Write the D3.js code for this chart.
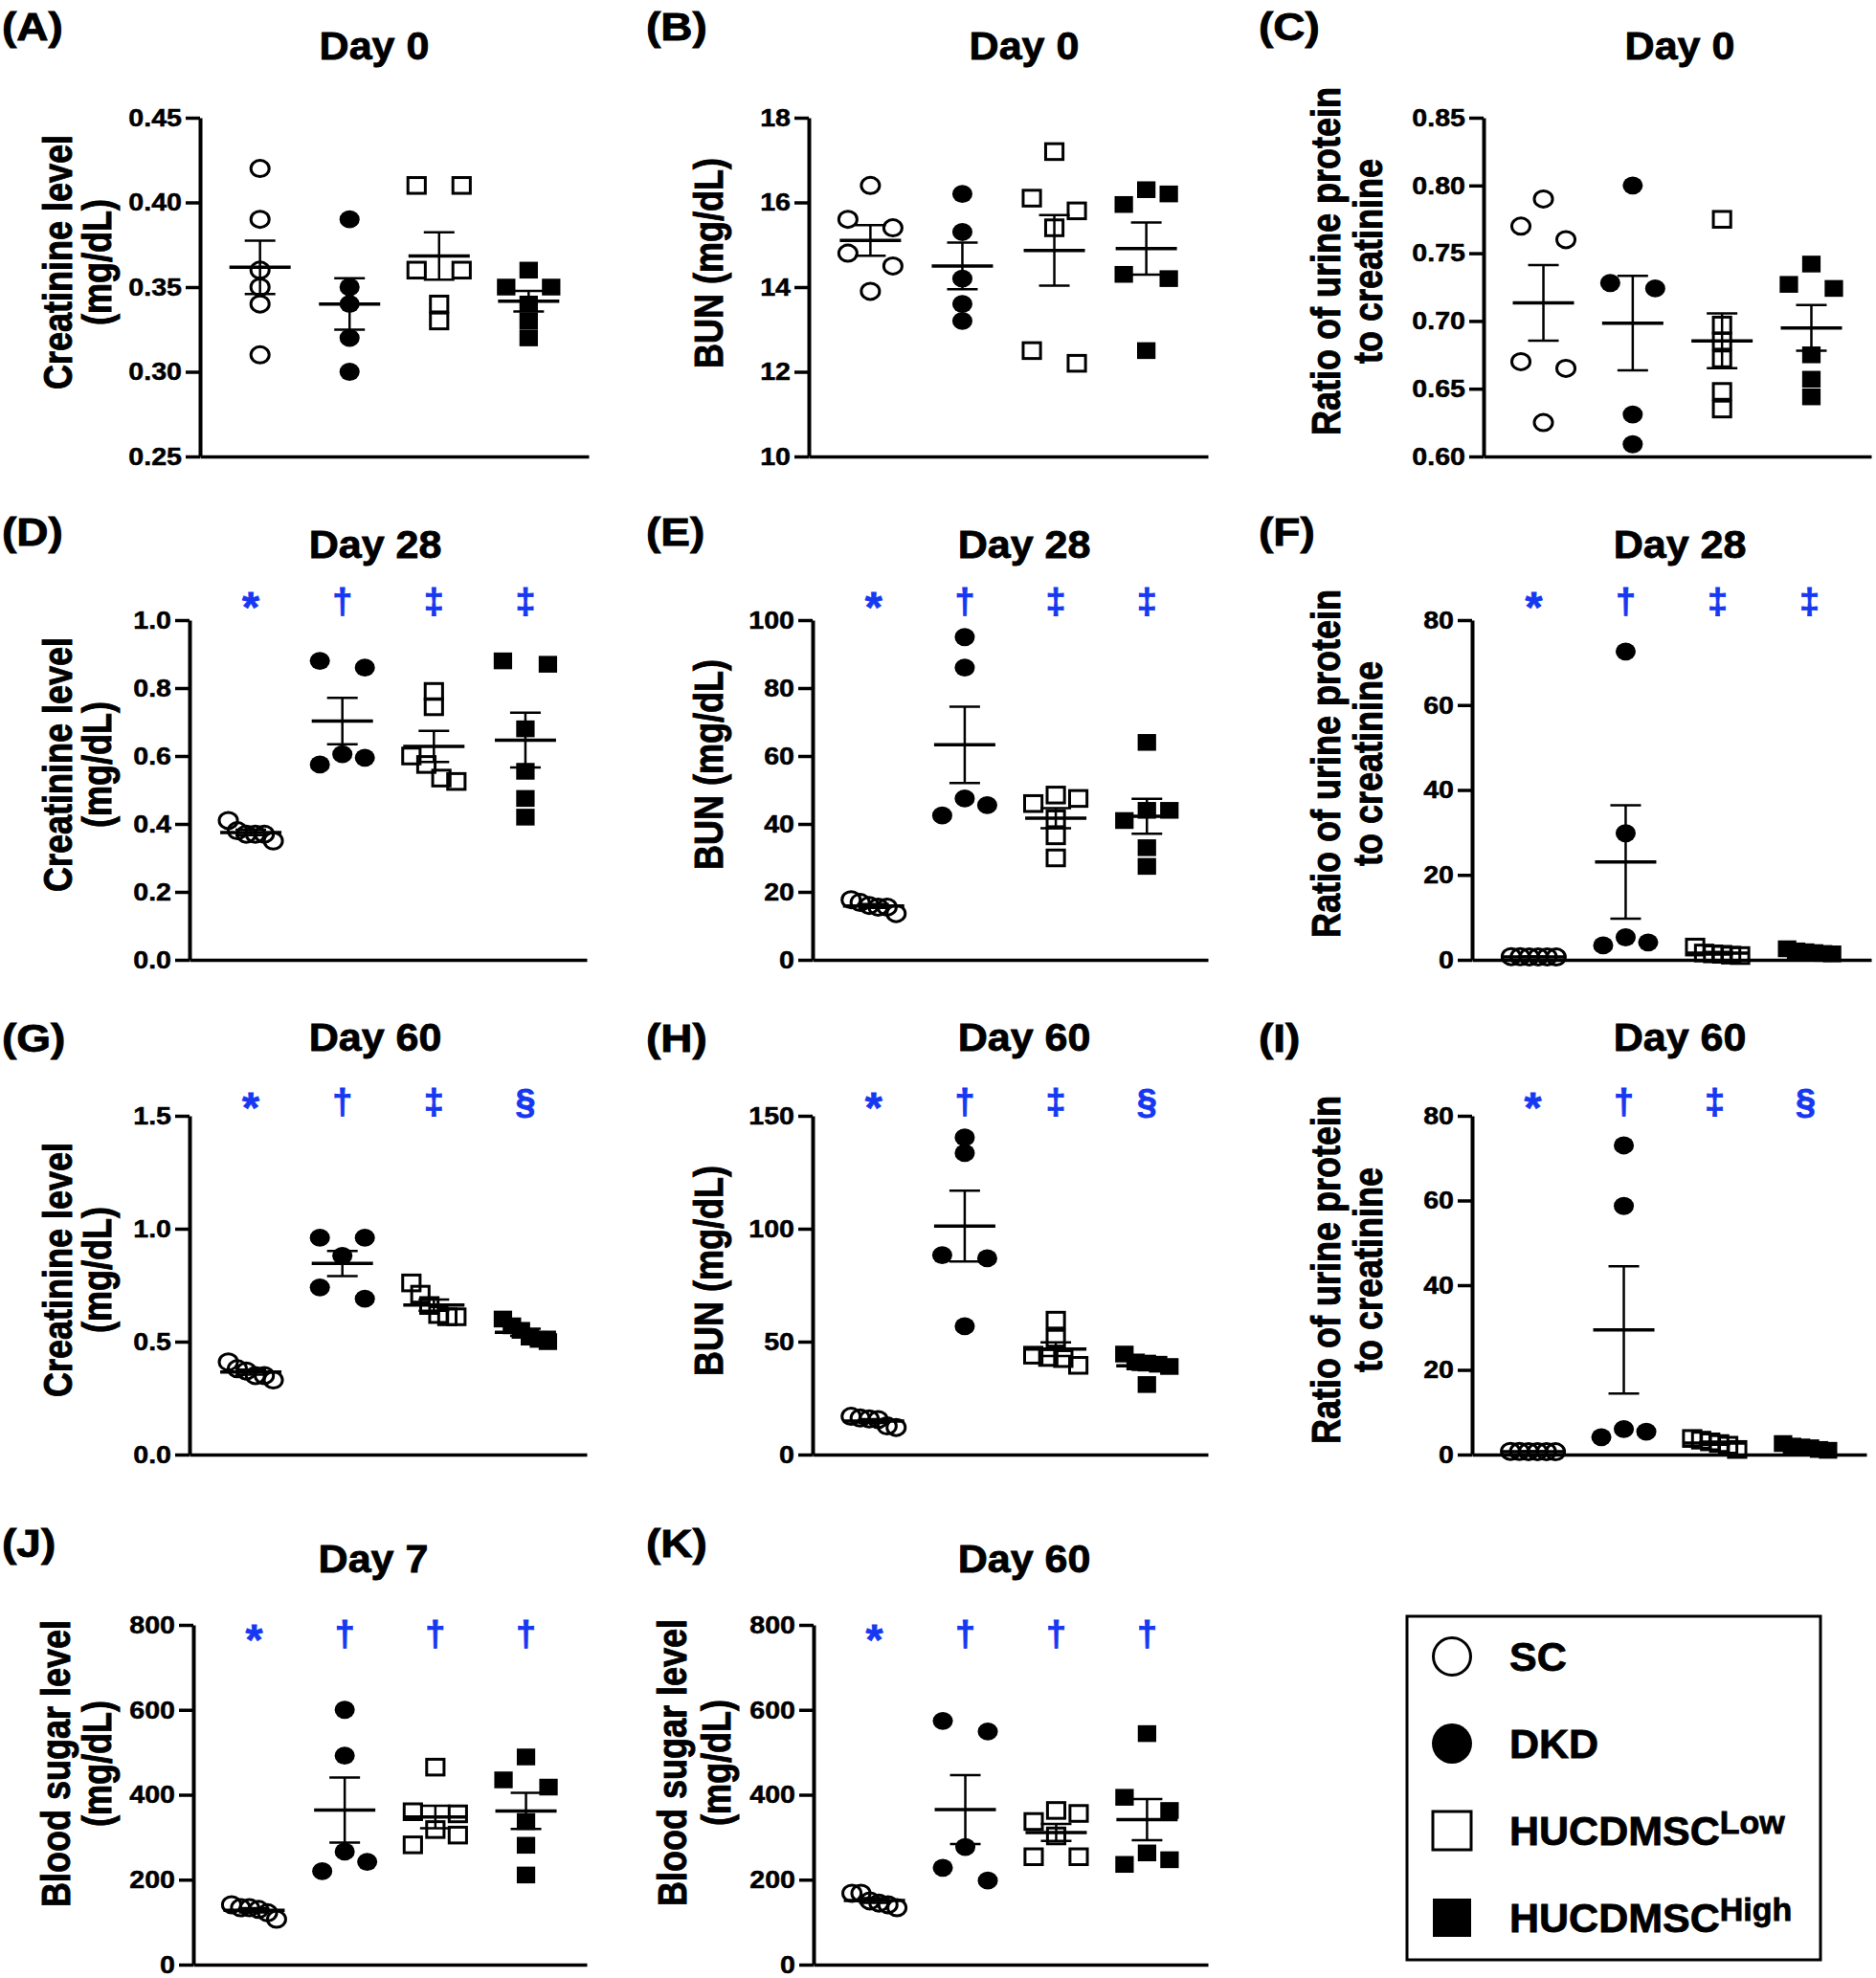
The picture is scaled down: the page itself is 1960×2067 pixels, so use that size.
<!DOCTYPE html>
<html>
<head>
<meta charset="utf-8">
<script src="https://cdn.jsdelivr.net/npm/d3@7"></script>
<style>
  body { margin: 0; background: #fff; }
  svg { display: block; }
  text { font-family: "Liberation Sans", Arial, sans-serif; font-weight: bold; }
</style>
</head>
<body>
<svg id="fig" width="1960" height="2067"></svg>
<script>
// ---------------- DATA ----------------
const groups = ["SC", "DKD", "HUCDMSC-Low", "HUCDMSC-High"];

// each panel: [SC, DKD, HUCDMSC Low, HUCDMSC High]
const creatinineDay0 = [[0.42,0.39,0.36,0.35,0.34,0.31],[0.39,0.35,0.34,0.32,0.30],[0.41,0.41,0.36,0.36,0.34,0.33],[0.36,0.35,0.35,0.34,0.33,0.32]];
const bunDay0        = [[16.4,15.6,15.4,14.8,14.5,13.9],[16.2,15.3,14.2,13.6,13.2],[17.2,16.1,15.8,15.4,12.5,12.2],[16.3,16.2,15.95,14.3,14.2,12.5]];
const upcrDay0       = [[0.79,0.77,0.76,0.67,0.665,0.625],[0.80,0.728,0.724,0.631,0.609],[0.775,0.697,0.685,0.672,0.648,0.635],[0.742,0.727,0.724,0.675,0.657,0.644]];
const creatinineDay28= [[0.41,0.38,0.37,0.37,0.37,0.35],[0.88,0.86,0.605,0.595,0.575],[0.79,0.745,0.60,0.575,0.535,0.525],[0.88,0.87,0.68,0.555,0.475,0.42]];
const bunDay28       = [[17.7,16.9,16.0,15.5,15.5,13.6],[95,86,47.5,45.5,42.5],[48.5,47.5,46,41.5,36.5,30],[64,44,44,41,33,27.5]];
const upcrDay28      = [[0.75,0.72,0.70,0.69,0.68,0.66],[72.6,29.8,5.3,4.1,3.4],[3.0,1.6,1.4,1.3,1.1,1.0],[2.6,2.1,1.9,1.7,1.5,1.4]];
const creatinineDay60= [[0.41,0.38,0.37,0.35,0.35,0.33],[0.96,0.96,0.88,0.74,0.69],[0.76,0.71,0.66,0.62,0.61,0.61],[0.60,0.57,0.55,0.52,0.51,0.50]];
const bunDay60       = [[16.9,16.2,15.8,15.5,12.7,12.0],[140.4,133.5,88.3,86.9,56.8],[59.5,51.5,44,43,42.5,39.5],[44.5,41,40.5,40,39,31]];
const upcrDay60      = [[0.75,0.72,0.70,0.69,0.68,0.66],[73,58.7,6.0,5.4,4.1],[3.8,3.4,3.0,2.6,2.2,1.2],[2.6,2.0,1.8,1.6,1.2,1.0]];
const sugarDay7      = [[141,134,134,130,122,107],[600,492,266,242,220],[465,360,355,318,305,282],[489,435,418,337,281,211]];
const sugarDay60     = [[168,168,150,145,141,134],[574,549,277,228,198],[363,356,337,303,254,254],[544,394,363,263,247,236]];

// tick labels
const ticksCreatinine0  = [0.25,0.30,0.35,0.40,0.45];
const ticksBun0         = [10,12,14,16,18];
const ticksUpcr0        = [0.60,0.65,0.70,0.75,0.80,0.85];
const ticksCreatinine28 = [0,0.2,0.4,0.6,0.8,1.0];
const ticksBun28        = [0,20,40,60,80,100];
const ticksUpcr         = [0,20,40,60,80];
const ticksCreatinine60 = [0,0.5,1.0,1.5];
const ticksBun60        = [0,50,100,150];
const ticksSugar        = [0,200,400,600,800];

// significance marks
const sigDay28 = ["*","\u2020","\u2021","\u2021"];
const sigDay60 = ["*","\u2020","\u2021","\u00A7"];
const sigSugar = ["*","\u2020","\u2020","\u2020"];

const legendLabels = ["SC", "DKD", "HUCDMSC", "HUCDMSC"];
const legendSup    = ["", "", "Low", "High"];

// ---------------- LAYOUT ----------------
const SX = 1.15;          // horizontal stretch of the original graphs
const BLUE = "#1638f2";
const TICK = 15;
const SLOT = 23.5;
const BIN_PX = 14.5;
const filled = [false, true, false, true];
const isSquare = [false, false, true, true];

const row1 = {yT:123, yB:477, labY:42, titleY:62, sigY:null};
const row2 = {yT:648, yB:1003, labY:570, titleY:583, sigY:641};
const row3 = {yT:1166, yB:1520, labY:1099, titleY:1098, sigY:1164};
const row4 = {yT:1698, yB:2053, labY:1627, titleY:1643, sigY:1720};

const panels = [
  {lab:"(A)", title:"Day 0",  data:creatinineDay0,  ticks:ticksCreatinine0,  fmt:".2f", ylab:["Creatinine level","(mg/dL)"], sig:null,
   row:row1, x0:209, x1:615, labX:2, titleX:391, ylabX:[60,101], ylabY:274},
  {lab:"(B)", title:"Day 0",  data:bunDay0,         ticks:ticksBun0,         fmt:"d",   ylab:["BUN (mg/dL)"], sig:null,
   row:row1, x0:845, x1:1262, labX:675, titleX:1070, ylabX:[740], ylabY:275},
  {lab:"(C)", title:"Day 0",  data:upcrDay0,        ticks:ticksUpcr0,        fmt:".2f", ylab:["Ratio of urine protein","to creatinine"], sig:null,
   row:row1, x0:1550, x1:1955, labX:1315, titleX:1755, ylabX:[1385,1429], ylabY:273},
  {lab:"(D)", title:"Day 28", data:creatinineDay28, ticks:ticksCreatinine28, fmt:".1f", ylab:["Creatinine level","(mg/dL)"], sig:sigDay28,
   row:row2, x0:198, x1:613, labX:2, titleX:392, ylabX:[60,101], ylabY:799},
  {lab:"(E)", title:"Day 28", data:bunDay28,        ticks:ticksBun28,        fmt:"d",   ylab:["BUN (mg/dL)"], sig:sigDay28,
   row:row2, x0:849, x1:1262, labX:675, titleX:1070, ylabX:[740], ylabY:799},
  {lab:"(F)", title:"Day 28", data:upcrDay28,       ticks:ticksUpcr,         fmt:"d",   ylab:["Ratio of urine protein","to creatinine"], sig:sigDay28,
   row:row2, x0:1538, x1:1955, labX:1315, titleX:1755, ylabX:[1385,1429], ylabY:798},
  {lab:"(G)", title:"Day 60", data:creatinineDay60, ticks:ticksCreatinine60, fmt:".1f", ylab:["Creatinine level","(mg/dL)"], sig:sigDay60,
   row:row3, x0:198, x1:613, labX:2, titleX:392, ylabX:[60,101], ylabY:1327},
  {lab:"(H)", title:"Day 60", data:bunDay60,        ticks:ticksBun60,        fmt:"d",   ylab:["BUN (mg/dL)"], sig:sigDay60,
   row:row3, x0:849, x1:1262, labX:675, titleX:1070, ylabX:[740], ylabY:1328},
  {lab:"(I)", title:"Day 60", data:upcrDay60,       ticks:ticksUpcr,         fmt:"d",   ylab:["Ratio of urine protein","to creatinine"], sig:sigDay60,
   row:row3, x0:1538, x1:1950, labX:1315, titleX:1755, ylabX:[1385,1429], ylabY:1327},
  {lab:"(J)", title:"Day 7",  data:sugarDay7,       ticks:ticksSugar,        fmt:"d",   ylab:["Blood sugar level","(mg/dL)"], sig:sigSugar,
   row:row4, x0:202, x1:613, labX:2, titleX:390, ylabX:[58,101], ylabY:1843},
  {lab:"(K)", title:"Day 60", data:sugarDay60,      ticks:ticksSugar,        fmt:"d",   ylab:["Blood sugar level","(mg/dL)"], sig:sigSugar,
   row:row4, x0:850, x1:1262, labX:675, titleX:1070, ylabX:[702,748], ylabY:1842}
];

const svg = d3.select("#fig");

// stretched text helper
function sText(parent, x, y, str, size, opts = {}) {
  const sx = opts.sx || SX;
  const g = parent.append("g").attr("transform", `translate(${x},${y}) scale(${sx},1)${opts.rot ? " rotate(" + opts.rot + ")" : ""}`);
  return g.append("text")
    .attr("x", 0).attr("y", 0)
    .attr("font-size", size)
    .attr("text-anchor", opts.anchor || "start")
    .attr("dominant-baseline", opts.baseline || "auto")
    .attr("fill", opts.fill || "#000")
    .attr("stroke", opts.fill || "#000")
    .attr("stroke-width", opts.sw || 0.6)
    .text(str);
}

// GraphPad-like horizontal spreading of overlapping points (in slot units)
function spread(vals, y) {
  const idx = vals.map((v, i) => i).sort((a, b) => vals[b] - vals[a]);
  const out = new Array(vals.length).fill(0);
  const bins = [];
  let cur = [idx[0]];
  for (let k = 1; k < idx.length; k++) {
    const prev = idx[k - 1], i = idx[k];
    if (Math.abs(y(vals[i]) - y(vals[prev])) < BIN_PX) cur.push(i);
    else { bins.push(cur); cur = [i]; }
  }
  bins.push(cur);
  bins.forEach(b => {
    const n = b.length;
    let o;
    if (n === 1) o = [0];
    else if (n === 2) o = [-1, 1];
    else if (n === 3) o = [0, 1, -1];
    else o = b.map((_, j) => -1 + 2 * j / (n - 1));
    b.forEach((i, j) => out[i] = o[j]);
  });
  return out;
}

function drawPanel(p) {
  const g = svg.append("g");
  const r = p.row;
  const y = d3.scaleLinear().domain([p.ticks[0], p.ticks[p.ticks.length - 1]]).range([r.yB, r.yT]);
  const x = d3.scalePoint().domain(groups).range([p.x0, p.x1]).padding(0.67);

  // y axis
  const ya = g.append("g").attr("transform", `translate(${p.x0},0)`)
    .call(d3.axisLeft(y).tickValues(p.ticks).tickFormat(d3.format(p.fmt)).tickSize(TICK).tickSizeOuter(0).tickPadding(5));
  ya.attr("font-family", null).attr("font-size", null);
  ya.select(".domain").attr("stroke", "#000").attr("stroke-width", 4);
  ya.selectAll(".tick line").attr("stroke", "#000").attr("stroke-width", 3.5);
  ya.selectAll(".tick text")
    .attr("font-size", 26).attr("fill", "#000")
    .attr("stroke", "#000").attr("stroke-width", 0.5)
    .attr("x", -(TICK + 4) / 1.1)
    .attr("transform", `scale(1.1,1)`);

  // x axis (line only)
  const xa = g.append("g").attr("transform", `translate(0,${r.yB})`)
    .call(d3.axisBottom(x).tickValues([]).tickSizeOuter(0));
  xa.select(".domain").attr("stroke", "#000").attr("stroke-width", 3.5);

  // points
  p.data.forEach((vals, gi) => {
    const cx = x(groups[gi]);
    const off = spread(vals, y);
    const pg = g.append("g");
    vals.forEach((v, i) => {
      const px = cx + off[i] * SLOT, py = y(v);
      if (isSquare[gi]) {
        const s = filled[gi] ? 17.5 : 16.5;
        pg.append("rect")
          .attr("x", px - s * 1.1 / 2).attr("y", py - s / 2)
          .attr("width", s * 1.1).attr("height", s)
          .attr("fill", filled[gi] ? "#000" : "none")
          .attr("stroke", "#000").attr("stroke-width", filled[gi] ? 0 : 3);
      } else {
        const rr = filled[gi] ? 9.4 : 8.5;
        pg.append("ellipse")
          .attr("cx", px).attr("cy", py)
          .attr("rx", rr * 1.12).attr("ry", rr)
          .attr("fill", filled[gi] ? "#000" : "none")
          .attr("stroke", "#000").attr("stroke-width", filled[gi] ? 0 : 3);
      }
    });
    // mean ± SEM
    const m = d3.mean(vals);
    const sem = d3.deviation(vals) / Math.sqrt(vals.length);
    const eg = g.append("g").attr("stroke", "#000");
    eg.append("line").attr("x1", cx).attr("x2", cx).attr("y1", y(m - sem)).attr("y2", y(m + sem)).attr("stroke-width", 2.5);
    [m - sem, m + sem].forEach(v => {
      eg.append("line").attr("x1", cx - 16).attr("x2", cx + 16).attr("y1", y(v)).attr("y2", y(v)).attr("stroke-width", 2.5);
    });
    eg.append("line").attr("x1", cx - 32).attr("x2", cx + 32).attr("y1", y(m)).attr("y2", y(m)).attr("stroke-width", 3.5);

    // significance (the asterisk glyph is small, so it is set larger and lower)
    if (p.sig) {
      const star = p.sig[gi] === "*";
      sText(g, cx, r.sigY + (star ? 9 : 0), p.sig[gi], star ? 44 : 36, {anchor: "middle", fill: BLUE, sx: 1.05, sw: 0.8});
    }
  });

  // title, panel letter, y label
  sText(g, p.titleX, r.titleY, p.title, 41, {anchor: "middle", sx: 1.05, sw: 0.8});
  sText(g, p.labX, r.labY, p.lab, 40, {anchor: "start", sx: 1.15, sw: 0.8});
  p.ylab.forEach((t, i) => {
    sText(g, p.ylabX[i], p.ylabY, t, 36, {anchor: "middle", baseline: "central", rot: -90, sx: 1.18, sw: 0.8});
  });
}

panels.forEach(drawPanel);

// ---------------- LEGEND ----------------
const lg = svg.append("g");
lg.append("rect").attr("x", 1470).attr("y", 1689).attr("width", 432).attr("height", 359)
  .attr("fill", "none").attr("stroke", "#000").attr("stroke-width", 3);
const legY = d3.scalePoint().domain(groups).range([1731, 2004]);
groups.forEach((gname, i) => {
  const cy = legY(gname);
  if (isSquare[i]) {
    lg.append("rect").attr("x", 1517 - 20).attr("y", cy - 20).attr("width", 40).attr("height", 40)
      .attr("fill", filled[i] ? "#000" : "none").attr("stroke", "#000").attr("stroke-width", filled[i] ? 0 : 3);
  } else {
    lg.append("circle").attr("cx", 1517).attr("cy", cy).attr("r", filled[i] ? 21 : 19.5)
      .attr("fill", filled[i] ? "#000" : "none").attr("stroke", "#000").attr("stroke-width", filled[i] ? 0 : 3);
  }
  const t = lg.append("text").attr("x", 1577).attr("y", cy + 15).attr("font-size", 43)
    .attr("fill", "#000").attr("stroke", "#000").attr("stroke-width", 0.8);
  t.append("tspan").text(legendLabels[i]);
  if (legendSup[i]) t.append("tspan").attr("font-size", 34).attr("dy", -12).text(legendSup[i]);
});
</script>
</body>
</html>
